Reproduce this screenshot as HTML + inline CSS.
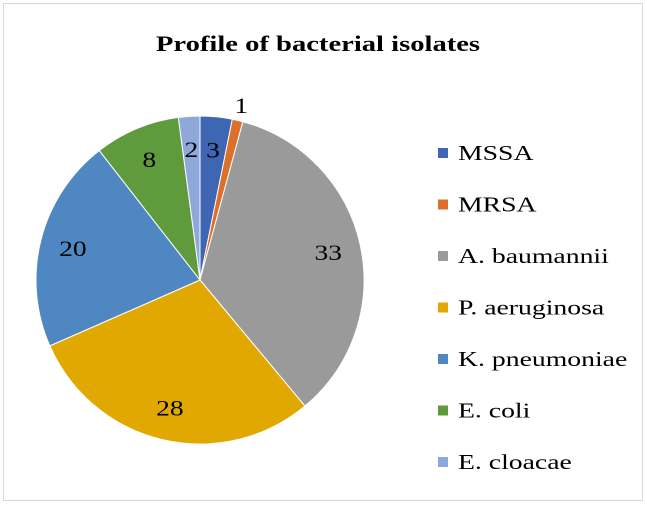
<!DOCTYPE html>
<html><head><meta charset="utf-8"><style>
body{margin:0;background:#fff;}
svg{display:block;font-family:"Liberation Serif",serif;}
</style></head><body>
<svg id="c" width="647" height="506">
<rect x="3.5" y="3.5" width="639" height="497" fill="#fff" stroke="#d9d9d9"/>
<text x="0" y="0" transform="translate(318,51) scale(1.3,1)" text-anchor="middle" font-size="22" font-weight="bold" fill="#000">Profile of bacterial isolates</text>
<g id="pie"></g><g id="legend"></g>
</svg>
<script>
const categories=["MSSA","MRSA","A. baumannii","P. aeruginosa","K. pneumoniae","E. coli","E. cloacae"];
const values=[3,1,33,28,20,8,2];
const colors=["#3f66b3","#dc6f2a","#9a9a9a","#e0a800","#4e87c1","#5f9a3d","#8fa8dc"];
const NS="http://www.w3.org/2000/svg";
const cx=200,cy=280,R=164;
const total=values.reduce((a,b)=>a+b,0);
const pie=document.getElementById("pie"),leg=document.getElementById("legend");
function pt(a,r){return [cx+r*Math.sin(a),cy-r*Math.cos(a)];}
let acc=0;
values.forEach((v,i)=>{
 const a0=acc/total*2*Math.PI;acc+=v;const a1=acc/total*2*Math.PI;
 const p0=pt(a0,R),p1=pt(a1,R);
 const path=document.createElementNS(NS,"path");
 path.setAttribute("d",`M${cx},${cy}L${p0[0]},${p0[1]}A${R},${R} 0 ${a1-a0>Math.PI?1:0} 1 ${p1[0]},${p1[1]}Z`);
 path.setAttribute("fill",colors[i]);path.setAttribute("stroke","#fff");path.setAttribute("stroke-width","1");
 
 
 pie.appendChild(path);
 const am=(a0+a1)/2;const small=v/total<0.015;
 const lp=pt(am,small?R+16:R*0.8);
 const t=document.createElementNS(NS,"text");
 t.setAttribute("x",0);t.setAttribute("y",0);t.setAttribute("text-anchor","middle");
 t.setAttribute("transform",`translate(${lp[0]},${lp[1]+8}) scale(1.25,1)`);
 t.setAttribute("font-size","22");t.textContent=v;
 
 
 pie.appendChild(t);
 const y=153+i*51.5;
 const r=document.createElementNS(NS,"rect");
 r.setAttribute("x",438);r.setAttribute("y",y-5);r.setAttribute("width",10);r.setAttribute("height",10);r.setAttribute("fill",colors[i]);
 
 
 leg.appendChild(r);
 const lt=document.createElementNS(NS,"text");
 lt.setAttribute("x",0);lt.setAttribute("y",0);lt.setAttribute("font-size","21");lt.textContent=categories[i];
 lt.setAttribute("transform",`translate(458,${y+7}) scale(1.32,1)`);
 
 
 leg.appendChild(lt);
});
</script>
</body></html>
